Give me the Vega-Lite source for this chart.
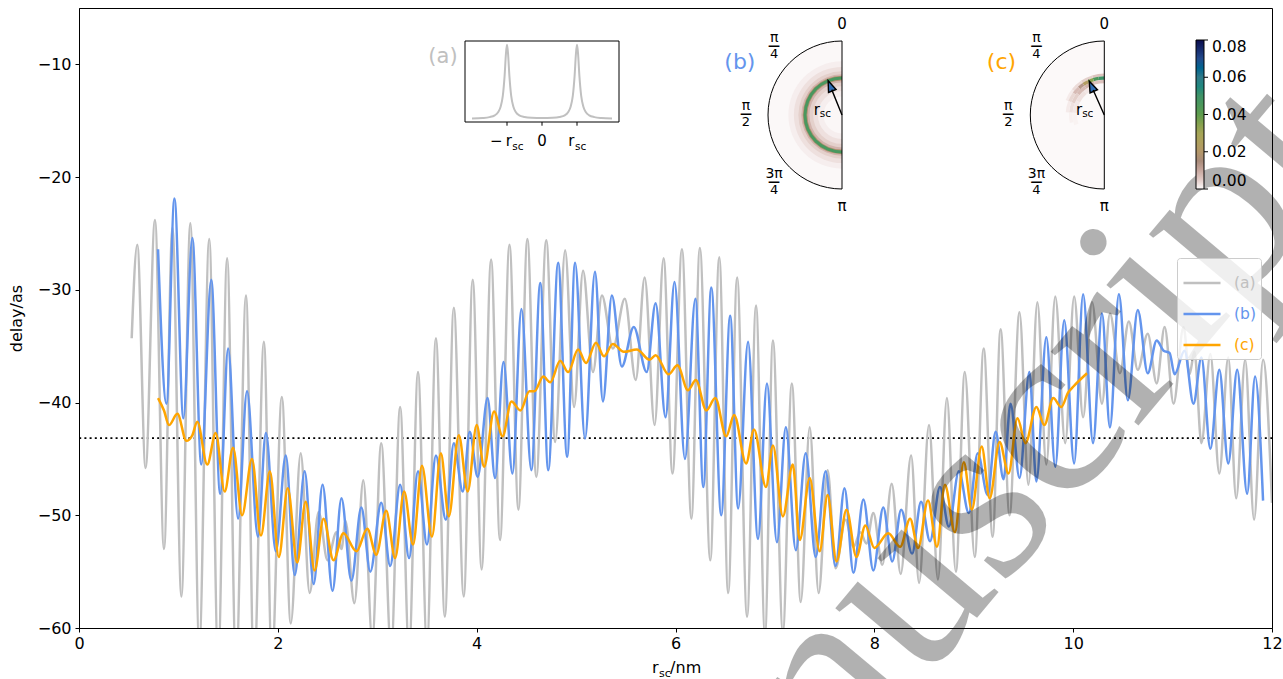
{
  "$schema": "https://vega.github.io/schema/vega-lite/v6.json",
  "width": 1193,
  "height": 620,
  "autosize": {"type": "none"},
  "padding": {"left": 79, "top": 8, "right": 11, "bottom": 51},
  "background": "white",
  "config": {
    "view": {"stroke": "black", "strokeWidth": 1},
    "axis": {"grid": false, "domainColor": "black", "tickColor": "black", "labelColor": "black", "titleColor": "black", "labelFont": "DejaVu Sans", "labelFontSize": 16, "titleFont": "DejaVu Sans", "titleFontSize": 16, "titleFontWeight": "normal", "tickSize": 4, "domainWidth": 1, "tickWidth": 1, "labelFlush": false},
    "text": {"font": "DejaVu Sans"}
  },
  "datasets": {
    "series": [
      {"s":"(a)","r":0.53,"d":-34.3},{"s":"(a)","r":0.586,"d":-26.0},{"s":"(a)","r":0.67,"d":-45.8},{"s":"(a)","r":0.764,"d":-23.8},{"s":"(a)","r":0.855,"d":-53.0},{"s":"(a)","r":0.94,"d":-24.5},{"s":"(a)","r":1.03,"d":-57.2},{"s":"(a)","r":1.12,"d":-24.1},{"s":"(a)","r":1.21,"d":-61.5},{"s":"(a)","r":1.31,"d":-25.5},{"s":"(a)","r":1.40,"d":-63},{"s":"(a)","r":1.49,"d":-27.2},{"s":"(a)","r":1.58,"d":-63.5},{"s":"(a)","r":1.68,"d":-30.5},{"s":"(a)","r":1.76,"d":-64},{"s":"(a)","r":1.86,"d":-34.6},{"s":"(a)","r":1.94,"d":-63},{"s":"(a)","r":2.04,"d":-39.5},{"s":"(a)","r":2.13,"d":-59.6},{"s":"(a)","r":2.23,"d":-44.5},{"s":"(a)","r":2.32,"d":-56.9},{"s":"(a)","r":2.41,"d":-49.7},{"s":"(a)","r":2.50,"d":-54.0},{"s":"(a)","r":2.59,"d":-51.5},{"s":"(a)","r":2.64,"d":-53.0},{"s":"(a)","r":2.68,"d":-50.5},{"s":"(a)","r":2.77,"d":-57.8},{"s":"(a)","r":2.86,"d":-46.9},{"s":"(a)","r":2.95,"d":-61},{"s":"(a)","r":3.04,"d":-43.6},{"s":"(a)","r":3.14,"d":-62},{"s":"(a)","r":3.23,"d":-40.4},{"s":"(a)","r":3.32,"d":-62},{"s":"(a)","r":3.41,"d":-37.3},{"s":"(a)","r":3.50,"d":-61.5},{"s":"(a)","r":3.59,"d":-34.3},{"s":"(a)","r":3.68,"d":-59.0},{"s":"(a)","r":3.77,"d":-31.6},{"s":"(a)","r":3.87,"d":-57.2},{"s":"(a)","r":3.96,"d":-29.1},{"s":"(a)","r":4.05,"d":-54.8},{"s":"(a)","r":4.145,"d":-27.3},{"s":"(a)","r":4.235,"d":-52.2},{"s":"(a)","r":4.33,"d":-26.0},{"s":"(a)","r":4.42,"d":-49.5},{"s":"(a)","r":4.51,"d":-25.5},{"s":"(a)","r":4.60,"d":-46.6},{"s":"(a)","r":4.70,"d":-25.6},{"s":"(a)","r":4.79,"d":-43.5},{"s":"(a)","r":4.89,"d":-26.5},{"s":"(a)","r":4.98,"d":-40.4},{"s":"(a)","r":5.07,"d":-28.3},{"s":"(a)","r":5.17,"d":-37.3},{"s":"(a)","r":5.26,"d":-30.5},{"s":"(a)","r":5.37,"d":-35.2},{"s":"(a)","r":5.49,"d":-30.8},{"s":"(a)","r":5.60,"d":-38.0},{"s":"(a)","r":5.69,"d":-28.9},{"s":"(a)","r":5.79,"d":-42.0},{"s":"(a)","r":5.88,"d":-27.2},{"s":"(a)","r":5.97,"d":-46.3},{"s":"(a)","r":6.065,"d":-26.4},{"s":"(a)","r":6.16,"d":-50.3},{"s":"(a)","r":6.245,"d":-26.3},{"s":"(a)","r":6.35,"d":-54.0},{"s":"(a)","r":6.44,"d":-27.1},{"s":"(a)","r":6.53,"d":-56.9},{"s":"(a)","r":6.62,"d":-28.9},{"s":"(a)","r":6.72,"d":-59.0},{"s":"(a)","r":6.81,"d":-31.4},{"s":"(a)","r":6.90,"d":-60.5},{"s":"(a)","r":6.98,"d":-34.5},{"s":"(a)","r":7.08,"d":-60.3},{"s":"(a)","r":7.17,"d":-38.3},{"s":"(a)","r":7.26,"d":-57.7},{"s":"(a)","r":7.35,"d":-42.2},{"s":"(a)","r":7.44,"d":-56.9},{"s":"(a)","r":7.53,"d":-46.0},{"s":"(a)","r":7.61,"d":-54.7},{"s":"(a)","r":7.71,"d":-50.4},{"s":"(a)","r":7.79,"d":-52.8},{"s":"(a)","r":7.86,"d":-51.5},{"s":"(a)","r":7.92,"d":-52.5},{"s":"(a)","r":7.99,"d":-49.8},{"s":"(a)","r":8.08,"d":-54.4},{"s":"(a)","r":8.175,"d":-47.2},{"s":"(a)","r":8.265,"d":-55.2},{"s":"(a)","r":8.37,"d":-44.7},{"s":"(a)","r":8.45,"d":-56.0},{"s":"(a)","r":8.55,"d":-42.0},{"s":"(a)","r":8.64,"d":-55.7},{"s":"(a)","r":8.73,"d":-39.6},{"s":"(a)","r":8.82,"d":-55.0},{"s":"(a)","r":8.91,"d":-37.3},{"s":"(a)","r":9.01,"d":-53.7},{"s":"(a)","r":9.10,"d":-35.2},{"s":"(a)","r":9.19,"d":-51.9},{"s":"(a)","r":9.27,"d":-33.5},{"s":"(a)","r":9.36,"d":-50.0},{"s":"(a)","r":9.46,"d":-32.0},{"s":"(a)","r":9.55,"d":-47.3},{"s":"(a)","r":9.64,"d":-31.1},{"s":"(a)","r":9.73,"d":-45.5},{"s":"(a)","r":9.82,"d":-30.6},{"s":"(a)","r":9.92,"d":-43.6},{"s":"(a)","r":10.01,"d":-30.6},{"s":"(a)","r":10.10,"d":-41.3},{"s":"(a)","r":10.19,"d":-31.1},{"s":"(a)","r":10.29,"d":-40.1},{"s":"(a)","r":10.37,"d":-32.1},{"s":"(a)","r":10.47,"d":-37.4},{"s":"(a)","r":10.56,"d":-32.8},{"s":"(a)","r":10.65,"d":-37.1},{"s":"(a)","r":10.75,"d":-33.9},{"s":"(a)","r":10.84,"d":-38.3},{"s":"(a)","r":10.92,"d":-33.3},{"s":"(a)","r":11.01,"d":-40.1},{"s":"(a)","r":11.11,"d":-33.3},{"s":"(a)","r":11.17,"d":-37.5},{"s":"(a)","r":11.22,"d":-35.5},{"s":"(a)","r":11.29,"d":-43.6},{"s":"(a)","r":11.38,"d":-35.7},{"s":"(a)","r":11.47,"d":-46.3},{"s":"(a)","r":11.56,"d":-36.0},{"s":"(a)","r":11.64,"d":-48.5},{"s":"(a)","r":11.73,"d":-36.2},{"s":"(a)","r":11.82,"d":-50.4},{"s":"(a)","r":11.91,"d":-36.2},{"s":"(a)","r":12.0,"d":-48.9},
      {"s":"(b)","r":0.795,"d":-26.4},{"s":"(b)","r":0.88,"d":-40.1},{"s":"(b)","r":0.96,"d":-21.9},{"s":"(b)","r":1.05,"d":-41.4},{"s":"(b)","r":1.14,"d":-25.4},{"s":"(b)","r":1.23,"d":-45.5},{"s":"(b)","r":1.33,"d":-29.1},{"s":"(b)","r":1.42,"d":-48.1},{"s":"(b)","r":1.50,"d":-35.2},{"s":"(b)","r":1.60,"d":-50.3},{"s":"(b)","r":1.69,"d":-39.0},{"s":"(b)","r":1.80,"d":-51.9},{"s":"(b)","r":1.88,"d":-42.7},{"s":"(b)","r":1.98,"d":-53.2},{"s":"(b)","r":2.08,"d":-44.7},{"s":"(b)","r":2.17,"d":-55.3},{"s":"(b)","r":2.27,"d":-46.1},{"s":"(b)","r":2.36,"d":-56.1},{"s":"(b)","r":2.45,"d":-47.3},{"s":"(b)","r":2.55,"d":-56.7},{"s":"(b)","r":2.64,"d":-48.5},{"s":"(b)","r":2.74,"d":-55.8},{"s":"(b)","r":2.84,"d":-49.3},{"s":"(b)","r":2.93,"d":-55.0},{"s":"(b)","r":3.04,"d":-48.9},{"s":"(b)","r":3.13,"d":-54.5},{"s":"(b)","r":3.23,"d":-47.3},{"s":"(b)","r":3.32,"d":-53.8},{"s":"(b)","r":3.41,"d":-46.1},{"s":"(b)","r":3.50,"d":-52.6},{"s":"(b)","r":3.59,"d":-44.7},{"s":"(b)","r":3.69,"d":-50.4},{"s":"(b)","r":3.77,"d":-43.6},{"s":"(b)","r":3.86,"d":-47.9},{"s":"(b)","r":3.93,"d":-42.6},{"s":"(b)","r":4.01,"d":-46.6},{"s":"(b)","r":4.11,"d":-39.6},{"s":"(b)","r":4.185,"d":-46.7},{"s":"(b)","r":4.27,"d":-36.4},{"s":"(b)","r":4.36,"d":-46.3},{"s":"(b)","r":4.45,"d":-31.7},{"s":"(b)","r":4.55,"d":-46.0},{"s":"(b)","r":4.64,"d":-29.4},{"s":"(b)","r":4.72,"d":-46.0},{"s":"(b)","r":4.82,"d":-27.6},{"s":"(b)","r":4.91,"d":-44.8},{"s":"(b)","r":4.99,"d":-27.6},{"s":"(b)","r":5.09,"d":-43.2},{"s":"(b)","r":5.19,"d":-28.4},{"s":"(b)","r":5.27,"d":-39.9},{"s":"(b)","r":5.36,"d":-30.5},{"s":"(b)","r":5.46,"d":-36.8},{"s":"(b)","r":5.58,"d":-33.3},{"s":"(b)","r":5.71,"d":-37.3},{"s":"(b)","r":5.80,"d":-31.2},{"s":"(b)","r":5.90,"d":-41.3},{"s":"(b)","r":5.99,"d":-29.3},{"s":"(b)","r":6.095,"d":-45.0},{"s":"(b)","r":6.20,"d":-30.8},{"s":"(b)","r":6.28,"d":-47.5},{"s":"(b)","r":6.36,"d":-29.8},{"s":"(b)","r":6.46,"d":-50.0},{"s":"(b)","r":6.55,"d":-32.3},{"s":"(b)","r":6.63,"d":-49.4},{"s":"(b)","r":6.73,"d":-34.6},{"s":"(b)","r":6.83,"d":-52.1},{"s":"(b)","r":6.92,"d":-38.3},{"s":"(b)","r":7.02,"d":-52.4},{"s":"(b)","r":7.11,"d":-42.2},{"s":"(b)","r":7.21,"d":-53.1},{"s":"(b)","r":7.31,"d":-44.5},{"s":"(b)","r":7.41,"d":-53.7},{"s":"(b)","r":7.51,"d":-46.1},{"s":"(b)","r":7.61,"d":-54.5},{"s":"(b)","r":7.70,"d":-47.6},{"s":"(b)","r":7.79,"d":-55.1},{"s":"(b)","r":7.89,"d":-48.6},{"s":"(b)","r":7.99,"d":-54.9},{"s":"(b)","r":8.09,"d":-49.3},{"s":"(b)","r":8.18,"d":-54.1},{"s":"(b)","r":8.27,"d":-49.5},{"s":"(b)","r":8.38,"d":-53.4},{"s":"(b)","r":8.47,"d":-48.8},{"s":"(b)","r":8.56,"d":-52.3},{"s":"(b)","r":8.66,"d":-47.5},{"s":"(b)","r":8.75,"d":-51.0},{"s":"(b)","r":8.85,"d":-46.1},{"s":"(b)","r":8.95,"d":-49.8},{"s":"(b)","r":9.04,"d":-44.5},{"s":"(b)","r":9.14,"d":-48.2},{"s":"(b)","r":9.22,"d":-42.6},{"s":"(b)","r":9.30,"d":-46.8},{"s":"(b)","r":9.37,"d":-40.1},{"s":"(b)","r":9.46,"d":-46.7},{"s":"(b)","r":9.56,"d":-37.3},{"s":"(b)","r":9.63,"d":-47.0},{"s":"(b)","r":9.73,"d":-34.2},{"s":"(b)","r":9.82,"d":-45.7},{"s":"(b)","r":9.91,"d":-32.7},{"s":"(b)","r":10.01,"d":-45.4},{"s":"(b)","r":10.10,"d":-30.4},{"s":"(b)","r":10.20,"d":-43.6},{"s":"(b)","r":10.29,"d":-32.1},{"s":"(b)","r":10.37,"d":-42.2},{"s":"(b)","r":10.46,"d":-30.4},{"s":"(b)","r":10.55,"d":-39.8},{"s":"(b)","r":10.65,"d":-31.8},{"s":"(b)","r":10.75,"d":-37.4},{"s":"(b)","r":10.84,"d":-34.5},{"s":"(b)","r":10.91,"d":-35.4},{"s":"(b)","r":10.97,"d":-35.6},{"s":"(b)","r":11.02,"d":-37.5},{"s":"(b)","r":11.12,"d":-35.4},{"s":"(b)","r":11.21,"d":-40.1},{"s":"(b)","r":11.29,"d":-36.0},{"s":"(b)","r":11.38,"d":-44.1},{"s":"(b)","r":11.47,"d":-37.1},{"s":"(b)","r":11.56,"d":-45.4},{"s":"(b)","r":11.65,"d":-37.1},{"s":"(b)","r":11.75,"d":-48.1},{"s":"(b)","r":11.83,"d":-37.7},{"s":"(b)","r":11.91,"d":-48.7},
      {"s":"(c)","r":0.795,"d":-39.6},{"s":"(c)","r":0.855,"d":-40.7},{"s":"(c)","r":0.905,"d":-42.0},{"s":"(c)","r":0.99,"d":-41.0},{"s":"(c)","r":1.08,"d":-43.4},{"s":"(c)","r":1.14,"d":-42.9},{"s":"(c)","r":1.19,"d":-41.7},{"s":"(c)","r":1.29,"d":-45.5},{"s":"(c)","r":1.375,"d":-42.7},{"s":"(c)","r":1.465,"d":-47.9},{"s":"(c)","r":1.55,"d":-44.0},{"s":"(c)","r":1.64,"d":-50.0},{"s":"(c)","r":1.74,"d":-45.0},{"s":"(c)","r":1.83,"d":-51.8},{"s":"(c)","r":1.92,"d":-46.1},{"s":"(c)","r":2.01,"d":-53.7},{"s":"(c)","r":2.10,"d":-47.6},{"s":"(c)","r":2.195,"d":-54.2},{"s":"(c)","r":2.28,"d":-48.8},{"s":"(c)","r":2.37,"d":-54.9},{"s":"(c)","r":2.46,"d":-50.3},{"s":"(c)","r":2.56,"d":-54.0},{"s":"(c)","r":2.66,"d":-51.6},{"s":"(c)","r":2.79,"d":-53.2},{"s":"(c)","r":2.90,"d":-51.2},{"s":"(c)","r":2.99,"d":-53.5},{"s":"(c)","r":3.09,"d":-49.6},{"s":"(c)","r":3.18,"d":-53.8},{"s":"(c)","r":3.27,"d":-47.9},{"s":"(c)","r":3.36,"d":-52.6},{"s":"(c)","r":3.45,"d":-45.6},{"s":"(c)","r":3.55,"d":-51.9},{"s":"(c)","r":3.64,"d":-44.5},{"s":"(c)","r":3.72,"d":-50.1},{"s":"(c)","r":3.82,"d":-42.9},{"s":"(c)","r":3.91,"d":-47.9},{"s":"(c)","r":4.00,"d":-42.0},{"s":"(c)","r":4.075,"d":-45.7},{"s":"(c)","r":4.175,"d":-40.8},{"s":"(c)","r":4.26,"d":-43.0},{"s":"(c)","r":4.35,"d":-39.9},{"s":"(c)","r":4.44,"d":-40.7},{"s":"(c)","r":4.53,"d":-39.0},{"s":"(c)","r":4.58,"d":-39.0},{"s":"(c)","r":4.67,"d":-37.7},{"s":"(c)","r":4.74,"d":-38.2},{"s":"(c)","r":4.84,"d":-36.3},{"s":"(c)","r":4.92,"d":-37.3},{"s":"(c)","r":5.02,"d":-35.3},{"s":"(c)","r":5.10,"d":-36.5},{"s":"(c)","r":5.20,"d":-34.7},{"s":"(c)","r":5.28,"d":-35.9},{"s":"(c)","r":5.37,"d":-34.8},{"s":"(c)","r":5.48,"d":-35.5},{"s":"(c)","r":5.61,"d":-35.3},{"s":"(c)","r":5.74,"d":-36.2},{"s":"(c)","r":5.80,"d":-35.8},{"s":"(c)","r":5.93,"d":-37.5},{"s":"(c)","r":6.02,"d":-36.7},{"s":"(c)","r":6.125,"d":-38.9},{"s":"(c)","r":6.205,"d":-38.0},{"s":"(c)","r":6.31,"d":-40.7},{"s":"(c)","r":6.40,"d":-39.6},{"s":"(c)","r":6.51,"d":-43.0},{"s":"(c)","r":6.59,"d":-41.1},{"s":"(c)","r":6.71,"d":-45.4},{"s":"(c)","r":6.79,"d":-42.4},{"s":"(c)","r":6.91,"d":-47.5},{"s":"(c)","r":6.98,"d":-43.8},{"s":"(c)","r":7.08,"d":-50.1},{"s":"(c)","r":7.18,"d":-45.5},{"s":"(c)","r":7.25,"d":-52.2},{"s":"(c)","r":7.35,"d":-46.7},{"s":"(c)","r":7.45,"d":-53.2},{"s":"(c)","r":7.53,"d":-48.2},{"s":"(c)","r":7.62,"d":-54.1},{"s":"(c)","r":7.72,"d":-49.5},{"s":"(c)","r":7.82,"d":-53.7},{"s":"(c)","r":7.91,"d":-50.9},{"s":"(c)","r":8.00,"d":-52.9},{"s":"(c)","r":8.14,"d":-51.6},{"s":"(c)","r":8.26,"d":-52.8},{"s":"(c)","r":8.36,"d":-50.3},{"s":"(c)","r":8.44,"d":-52.9},{"s":"(c)","r":8.54,"d":-48.7},{"s":"(c)","r":8.63,"d":-52.8},{"s":"(c)","r":8.71,"d":-47.3},{"s":"(c)","r":8.81,"d":-51.5},{"s":"(c)","r":8.90,"d":-45.3},{"s":"(c)","r":8.98,"d":-49.5},{"s":"(c)","r":9.08,"d":-43.9},{"s":"(c)","r":9.16,"d":-48.5},{"s":"(c)","r":9.26,"d":-43.5},{"s":"(c)","r":9.35,"d":-46.3},{"s":"(c)","r":9.44,"d":-41.4},{"s":"(c)","r":9.52,"d":-43.6},{"s":"(c)","r":9.63,"d":-40.4},{"s":"(c)","r":9.71,"d":-42.0},{"s":"(c)","r":9.80,"d":-39.6},{"s":"(c)","r":9.88,"d":-40.4},{"s":"(c)","r":9.95,"d":-39.1},{"s":"(c)","r":10.00,"d":-38.6},{"s":"(c)","r":10.14,"d":-37.4}
    ],
    "lor": [
      {"pos":-2.0,"I":0.006},{"pos":-1.7,"I":0.013},{"pos":-1.5,"I":0.026},{"pos":-1.35,"I":0.05},{"pos":-1.25,"I":0.095},{"pos":-1.18,"I":0.17},{"pos":-1.12,"I":0.31},{"pos":-1.07,"I":0.57},{"pos":-1.03,"I":0.88},{"pos":-1.0,"I":1.0},{"pos":-0.97,"I":0.88},{"pos":-0.93,"I":0.57},{"pos":-0.88,"I":0.31},{"pos":-0.82,"I":0.17},{"pos":-0.75,"I":0.095},{"pos":-0.65,"I":0.05},{"pos":-0.5,"I":0.028},{"pos":-0.3,"I":0.017},{"pos":0,"I":0.013},
      {"pos":0.3,"I":0.017},{"pos":0.5,"I":0.028},{"pos":0.65,"I":0.05},{"pos":0.75,"I":0.095},{"pos":0.82,"I":0.17},{"pos":0.88,"I":0.31},{"pos":0.93,"I":0.57},{"pos":0.97,"I":0.88},{"pos":1.0,"I":1.0},{"pos":1.03,"I":0.88},{"pos":1.07,"I":0.57},{"pos":1.12,"I":0.31},{"pos":1.18,"I":0.17},{"pos":1.25,"I":0.095},{"pos":1.35,"I":0.05},{"pos":1.5,"I":0.026},{"pos":1.7,"I":0.013},{"pos":2.0,"I":0.006}
    ],
    "db": [
      {"t0":0,"t1":3.14159265,"r0":0,"r1":2,"p":0.0003},
      {"t0":0,"t1":3.14159265,"r0":0,"r1":1.45,"p":0.0012},
      {"t0":0,"t1":3.14159265,"r0":0,"r1":1.3,"p":0.0026},
      {"t0":0,"t1":3.14159265,"r0":0,"r1":1.18,"p":0.0045},
      {"t0":0,"t1":3.14159265,"r0":0,"r1":1.1,"p":0.008},
      {"t0":0,"t1":3.14159265,"r0":0,"r1":1.06,"p":0.018},
      {"t0":0,"t1":3.14159265,"r0":0,"r1":1.04,"p":0.046},
      {"t0":0,"t1":3.14159265,"r0":0,"r1":0.96,"p":0.018},
      {"t0":0,"t1":3.14159265,"r0":0,"r1":0.935,"p":0.008},
      {"t0":0,"t1":3.14159265,"r0":0,"r1":0.88,"p":0.0045},
      {"t0":0,"t1":3.14159265,"r0":0,"r1":0.78,"p":0.0026},
      {"t0":0,"t1":3.14159265,"r0":0,"r1":0.65,"p":0.0012},
      {"t0":0,"t1":3.14159265,"r0":0,"r1":0.5,"p":0.0004}
    ],
    "dc": [
      {"t0":0,"t1":3.14159265,"r0":0,"r1":2,"p":0.0002},
      {"t0":0.3,"t1":0.7,"r0":0.74,"r1":0.86,"p":0.002},
      {"t0":0.7,"t1":1.1,"r0":0.74,"r1":0.86,"p":0.0025},
      {"t0":1.1,"t1":1.5,"r0":0.74,"r1":0.86,"p":0.0018},
      {"t0":1.5,"t1":1.9,"r0":0.74,"r1":0.86,"p":0.0008},
      {"t0":0,"t1":0.3,"r0":0.86,"r1":0.955,"p":0.006},
      {"t0":0.3,"t1":0.6,"r0":0.86,"r1":0.955,"p":0.008},
      {"t0":0.6,"t1":0.9,"r0":0.86,"r1":0.955,"p":0.007},
      {"t0":0.9,"t1":1.2,"r0":0.86,"r1":0.955,"p":0.0045},
      {"t0":1.2,"t1":1.5,"r0":0.86,"r1":0.955,"p":0.0025},
      {"t0":1.5,"t1":1.8,"r0":0.86,"r1":0.955,"p":0.001},
      {"t0":0,"t1":0.3,"r0":1.045,"r1":1.12,"p":0.006},
      {"t0":0.3,"t1":0.6,"r0":1.045,"r1":1.12,"p":0.0045},
      {"t0":0.6,"t1":0.9,"r0":1.045,"r1":1.12,"p":0.003},
      {"t0":0.9,"t1":1.2,"r0":1.045,"r1":1.12,"p":0.0015},
      {"t0":0,"t1":0.15,"r0":0.955,"r1":1.045,"p":0.05},
      {"t0":0.15,"t1":0.3,"r0":0.955,"r1":1.045,"p":0.045},
      {"t0":0.3,"t1":0.45,"r0":0.955,"r1":1.045,"p":0.034},
      {"t0":0.45,"t1":0.6,"r0":0.955,"r1":1.045,"p":0.022},
      {"t0":0.6,"t1":0.75,"r0":0.955,"r1":1.045,"p":0.013},
      {"t0":0.75,"t1":0.95,"r0":0.955,"r1":1.045,"p":0.007},
      {"t0":0.95,"t1":1.2,"r0":0.955,"r1":1.045,"p":0.0035},
      {"t0":1.2,"t1":1.5,"r0":0.955,"r1":1.045,"p":0.0015}
    ],
    "ang": [
      {"ang":0,"num":"0","den":""},
      {"ang":0.7854,"num":"π","den":"4"},
      {"ang":1.5708,"num":"π","den":"2"},
      {"ang":2.3562,"num":"3π","den":"4"},
      {"ang":3.1416,"num":"π","den":""}
    ]
  },
  "layer": [
    {
      "layer": [
        {
          "data": {"values": [{}]},
          "mark": {"type": "rule", "color": "black", "strokeWidth": 1.8, "strokeDash": [2, 3.2]},
          "encoding": {
            "y": {"datum": -43.16, "type": "quantitative", "scale": {"domain": [-60, -5], "nice": false, "zero": false}, "axis": {"values": [-60, -50, -40, -30, -20, -10], "title": "delay/as", "titlePadding": 13, "labelPadding": 4, "format": "d"}}
          }
        },
        {
          "data": {"name": "series"},
          "mark": {"type": "line", "interpolate": "monotone", "strokeWidth": 2.5, "clip": true},
          "encoding": {
            "x": {"field": "r", "type": "quantitative", "scale": {"domain": [0, 12], "nice": false, "zero": false}, "axis": {"values": [0, 2, 4, 6, 8, 10, 12], "title": null, "labelPadding": 3, "format": "d"}},
            "y": {"field": "d", "type": "quantitative", "scale": {"domain": [-60, -5], "nice": false, "zero": false}, "axis": {"values": [-60, -50, -40, -30, -20, -10], "title": "delay/as", "titlePadding": 13, "labelPadding": 4, "format": "d"}},
            "color": {
              "field": "s", "type": "nominal",
              "scale": {"domain": ["(a)", "(b)", "(c)"], "range": ["#c0c0c0", "#6495ed", "#ffa500"]},
              "legend": {"orient": "none", "legendX": 1098, "legendY": 250, "title": null, "symbolType": "stroke", "symbolStrokeWidth": 2.5, "symbolSize": 1369, "labelFont": "DejaVu Sans", "labelFontSize": 15.5, "labelOffset": 12, "rowPadding": 2, "padding": 5, "fillColor": "rgba(255,255,255,0.8)", "strokeColor": "#cccccc", "cornerRadius": 3, "labelColor": {"expr": "datum.label === '(a)' ? '#c0c0c0' : datum.label === '(b)' ? '#6495ed' : '#ffa500'"}}
            }
          }
        },
        {
          "data": {"values": [{}]},
          "mark": {"type": "text", "text": "r", "font": "DejaVu Sans", "fontSize": 16, "align": "right", "baseline": "alphabetic", "dx": -17, "clip": false},
          "encoding": {
            "x": {"datum": 6, "type": "quantitative", "scale": {"domain": [0, 12], "nice": false, "zero": false}, "axis": {"values": [0, 2, 4, 6, 8, 10, 12], "title": null, "labelPadding": 3, "format": "d"}},
            "y": {"datum": -64, "type": "quantitative", "scale": {"domain": [-60, -5], "nice": false, "zero": false}, "axis": {"values": [-60, -50, -40, -30, -20, -10], "title": "delay/as", "titlePadding": 13, "labelPadding": 4, "format": "d"}}
          }
        },
        {
          "data": {"values": [{}]},
          "mark": {"type": "text", "text": "sc", "font": "DejaVu Sans", "fontSize": 11, "align": "left", "baseline": "alphabetic", "dx": -16.5, "dy": 4, "clip": false},
          "encoding": {
            "x": {"datum": 6, "type": "quantitative", "scale": {"domain": [0, 12], "nice": false, "zero": false}, "axis": {"values": [0, 2, 4, 6, 8, 10, 12], "title": null, "labelPadding": 3, "format": "d"}},
            "y": {"datum": -64, "type": "quantitative", "scale": {"domain": [-60, -5], "nice": false, "zero": false}, "axis": {"values": [-60, -50, -40, -30, -20, -10], "title": "delay/as", "titlePadding": 13, "labelPadding": 4, "format": "d"}}
          }
        },
        {
          "data": {"values": [{}]},
          "mark": {"type": "text", "text": "/nm", "font": "DejaVu Sans", "fontSize": 16, "align": "left", "baseline": "alphabetic", "dx": -5.4, "clip": false},
          "encoding": {
            "x": {"datum": 6, "type": "quantitative", "scale": {"domain": [0, 12], "nice": false, "zero": false}, "axis": {"values": [0, 2, 4, 6, 8, 10, 12], "title": null, "labelPadding": 3, "format": "d"}},
            "y": {"datum": -64, "type": "quantitative", "scale": {"domain": [-60, -5], "nice": false, "zero": false}, "axis": {"values": [-60, -50, -40, -30, -20, -10], "title": "delay/as", "titlePadding": 13, "labelPadding": 4, "format": "d"}}
          }
        }
      ]
    },
    {
      "layer": [
        {
          "data": {"values": [{}]},
          "mark": {"type": "rect", "fill": "white", "stroke": "black", "strokeWidth": 1},
          "encoding": {
            "x": {"datum": -2.2, "type": "quantitative", "scale": {"domain": [-2.2, 2.2], "range": [386, 540]}, "axis": null},
            "x2": {"datum": 2.2},
            "y": {"datum": -0.04, "type": "quantitative", "scale": {"domain": [-0.04, 1.05], "range": [114, 33]}, "axis": null},
            "y2": {"datum": 1.05}
          }
        },
        {
          "data": {"name": "lor"},
          "mark": {"type": "line", "color": "#c0c0c0", "strokeWidth": 2, "interpolate": "monotone"},
          "encoding": {
            "x": {"field": "pos", "type": "quantitative", "scale": {"domain": [-2.2, 2.2], "range": [386, 540]}, "axis": null},
            "y": {"field": "I", "type": "quantitative", "scale": {"domain": [-0.04, 1.05], "range": [114, 33]}, "axis": null}
          }
        },
        {
          "data": {"values": [{"t": -1}, {"t": 0}, {"t": 1}]},
          "mark": {"type": "rule", "color": "black", "strokeWidth": 1},
          "encoding": {
            "x": {"field": "t", "type": "quantitative", "scale": {"domain": [-2.2, 2.2], "range": [386, 540]}, "axis": null},
            "y": {"datum": -0.04, "type": "quantitative", "scale": {"domain": [-0.04, 1.05], "range": [114, 33]}, "axis": null},
            "y2": {"datum": -0.09}
          }
        },
        {
          "data": {"values": [{}]},
          "mark": {"type": "text", "text": "−\u2009r", "fontSize": 15, "align": "right", "baseline": "alphabetic", "dx": 4.8},
          "encoding": {
            "x": {"datum": -1, "type": "quantitative", "scale": {"domain": [-2.2, 2.2], "range": [386, 540]}, "axis": null},
            "y": {"datum": -0.36, "type": "quantitative", "scale": {"domain": [-0.04, 1.05], "range": [114, 33]}, "axis": null}
          }
        },
        {
          "data": {"values": [{}]},
          "mark": {"type": "text", "text": "sc", "fontSize": 10.5, "align": "left", "baseline": "alphabetic", "dx": 5.3, "dy": 4},
          "encoding": {
            "x": {"datum": -1, "type": "quantitative", "scale": {"domain": [-2.2, 2.2], "range": [386, 540]}, "axis": null},
            "y": {"datum": -0.36, "type": "quantitative", "scale": {"domain": [-0.04, 1.05], "range": [114, 33]}, "axis": null}
          }
        },
        {
          "data": {"values": [{}]},
          "mark": {"type": "text", "text": "0", "fontSize": 15, "align": "center", "baseline": "alphabetic"},
          "encoding": {
            "x": {"datum": 0, "type": "quantitative", "scale": {"domain": [-2.2, 2.2], "range": [386, 540]}, "axis": null},
            "y": {"datum": -0.36, "type": "quantitative", "scale": {"domain": [-0.04, 1.05], "range": [114, 33]}, "axis": null}
          }
        },
        {
          "data": {"values": [{}]},
          "mark": {"type": "text", "text": "r", "fontSize": 15, "align": "right", "baseline": "alphabetic", "dx": -2.5},
          "encoding": {
            "x": {"datum": 1, "type": "quantitative", "scale": {"domain": [-2.2, 2.2], "range": [386, 540]}, "axis": null},
            "y": {"datum": -0.36, "type": "quantitative", "scale": {"domain": [-0.04, 1.05], "range": [114, 33]}, "axis": null}
          }
        },
        {
          "data": {"values": [{}]},
          "mark": {"type": "text", "text": "sc", "fontSize": 10.5, "align": "left", "baseline": "alphabetic", "dx": -2, "dy": 4},
          "encoding": {
            "x": {"datum": 1, "type": "quantitative", "scale": {"domain": [-2.2, 2.2], "range": [386, 540]}, "axis": null},
            "y": {"datum": -0.36, "type": "quantitative", "scale": {"domain": [-0.04, 1.05], "range": [114, 33]}, "axis": null}
          }
        },
        {
          "data": {"values": [{}]},
          "mark": {"type": "text", "text": "(a)", "fontSize": 21, "align": "center", "baseline": "middle", "color": "#c0c0c0"},
          "encoding": {
            "x": {"datum": -2.83, "type": "quantitative", "scale": {"domain": [-2.2, 2.2], "range": [386, 540]}, "axis": null},
            "y": {"datum": 0.835, "type": "quantitative", "scale": {"domain": [-0.04, 1.05], "range": [114, 33]}, "axis": null}
          }
        }
      ]
    },
    {
      "layer": [
        {
          "data": {"name": "db"},
          "mark": {"type": "arc", "strokeWidth": 0},
          "encoding": {
            "x": {"datum": 0, "type": "quantitative", "scale": {"domain": [-2, 0], "range": [689, 763]}, "axis": null},
            "y": {"datum": 0, "type": "quantitative", "scale": {"domain": [-2, 2], "range": [181, 33]}, "axis": null},
            "theta": {"field": "t0", "type": "quantitative", "scale": {"domain": [0, 3.14159265], "range": [6.28318531, 3.14159265]}, "stack": null},
            "theta2": {"field": "t1"},
            "radius": {"field": "r1", "type": "quantitative", "scale": {"type": "linear", "domain": [0, 2], "range": [0, 74], "zero": true}},
            "radius2": {"field": "r0"},
            "fill": {"field": "p", "type": "quantitative",
              "scale": {"domain": [0, 0.003, 0.008, 0.015, 0.022, 0.03, 0.04, 0.05, 0.06, 0.07, 0.08], "range": ["#fdfbfb", "#ecdcd9", "#d2b3ac", "#a98b7a", "#b39d62", "#a5a556", "#5e9d4d", "#3f9367", "#2f7a89", "#224a8c", "#0b0c4d"], "zero": false, "nice": false},
              "legend": {"orient": "none", "legendX": 1117, "legendY": 32, "title": null, "direction": "vertical", "gradientLength": 149, "gradientThickness": 8, "values": [0, 0.02, 0.04, 0.06, 0.08], "format": ".2f", "labelFont": "DejaVu Sans", "labelFontSize": 15.5, "labelColor": "black", "labelOffset": 8, "gradientStrokeColor": "black", "gradientStrokeWidth": 1, "padding": 0}
            }
          }
        },
        {
          "data": {"values": [{}]},
          "mark": {"type": "arc", "fillOpacity": 0, "stroke": "black", "strokeWidth": 1},
          "encoding": {
            "x": {"datum": 0, "type": "quantitative", "scale": {"domain": [-2, 0], "range": [689, 763]}, "axis": null},
            "y": {"datum": 0, "type": "quantitative", "scale": {"domain": [-2, 2], "range": [181, 33]}, "axis": null},
            "theta": {"datum": 0, "type": "quantitative", "scale": {"domain": [0, 3.14159265], "range": [6.28318531, 3.14159265]}},
            "theta2": {"datum": 3.14159265},
            "radius": {"datum": 2, "type": "quantitative", "scale": {"type": "linear", "domain": [0, 2], "range": [0, 74], "zero": true}},
            "radius2": {"datum": 0}
          }
        },
        {
          "data": {"values": [{}]},
          "mark": {"type": "point", "shape": "M0,0L0,-0.74M0,-1L-0.11,-0.7L0.11,-0.7Z", "size": 5476, "angle": -22, "filled": true, "fill": "#2f6db5", "stroke": "black", "strokeWidth": 1.4, "opacity": 1},
          "encoding": {
            "x": {"datum": 0, "type": "quantitative", "scale": {"domain": [-2, 0], "range": [689, 763]}, "axis": null},
            "y": {"datum": 0, "type": "quantitative", "scale": {"domain": [-2, 2], "range": [181, 33]}, "axis": null}
          }
        },
        {
          "data": {"name": "ang"},
          "transform": [{"filter": "datum.den == ''"}],
          "mark": {"type": "text", "radius": 91, "fontSize": 15, "align": "center", "baseline": "middle"},
          "encoding": {
            "x": {"datum": 0, "type": "quantitative", "scale": {"domain": [-2, 0], "range": [689, 763]}, "axis": null},
            "y": {"datum": 0, "type": "quantitative", "scale": {"domain": [-2, 2], "range": [181, 33]}, "axis": null},
            "theta": {"field": "ang", "type": "quantitative", "scale": {"domain": [0, 3.14159265], "range": [6.28318531, 3.14159265]}, "stack": null},
            "text": {"field": "num"}
          }
        },
        {
          "data": {"name": "ang"},
          "transform": [{"filter": "datum.den != ''"}],
          "mark": {"type": "text", "radius": 96, "fontSize": 14, "align": "center", "baseline": "middle", "dy": -9},
          "encoding": {
            "x": {"datum": 0, "type": "quantitative", "scale": {"domain": [-2, 0], "range": [689, 763]}, "axis": null},
            "y": {"datum": 0, "type": "quantitative", "scale": {"domain": [-2, 2], "range": [181, 33]}, "axis": null},
            "theta": {"field": "ang", "type": "quantitative", "scale": {"domain": [0, 3.14159265], "range": [6.28318531, 3.14159265]}, "stack": null},
            "text": {"field": "num"}
          }
        },
        {
          "data": {"name": "ang"},
          "transform": [{"filter": "datum.den != ''"}],
          "mark": {"type": "text", "text": "—", "radius": 96, "fontSize": 12, "fontWeight": "bold", "align": "center", "baseline": "middle", "dy": -1},
          "encoding": {
            "x": {"datum": 0, "type": "quantitative", "scale": {"domain": [-2, 0], "range": [689, 763]}, "axis": null},
            "y": {"datum": 0, "type": "quantitative", "scale": {"domain": [-2, 2], "range": [181, 33]}, "axis": null},
            "theta": {"field": "ang", "type": "quantitative", "scale": {"domain": [0, 3.14159265], "range": [6.28318531, 3.14159265]}, "stack": null}
          }
        },
        {
          "data": {"name": "ang"},
          "transform": [{"filter": "datum.den != ''"}],
          "mark": {"type": "text", "radius": 96, "fontSize": 13, "align": "center", "baseline": "middle", "dy": 7},
          "encoding": {
            "x": {"datum": 0, "type": "quantitative", "scale": {"domain": [-2, 0], "range": [689, 763]}, "axis": null},
            "y": {"datum": 0, "type": "quantitative", "scale": {"domain": [-2, 2], "range": [181, 33]}, "axis": null},
            "theta": {"field": "ang", "type": "quantitative", "scale": {"domain": [0, 3.14159265], "range": [6.28318531, 3.14159265]}, "stack": null},
            "text": {"field": "den"}
          }
        },
        {
          "data": {"values": [{}]},
          "mark": {"type": "text", "text": "(b)", "fontSize": 22, "align": "center", "baseline": "middle", "color": "#6495ed"},
          "encoding": {
            "x": {"datum": -2.76, "type": "quantitative", "scale": {"domain": [-2, 0], "range": [689, 763]}, "axis": null},
            "y": {"datum": 1.43, "type": "quantitative", "scale": {"domain": [-2, 2], "range": [181, 33]}, "axis": null}
          }
        },
        {
          "data": {"values": [{}]},
          "mark": {"type": "text", "text": "r", "fontSize": 15, "align": "center", "baseline": "middle"},
          "encoding": {
            "x": {"datum": -0.68, "type": "quantitative", "scale": {"domain": [-2, 0], "range": [689, 763]}, "axis": null},
            "y": {"datum": 0.13, "type": "quantitative", "scale": {"domain": [-2, 2], "range": [181, 33]}, "axis": null}
          }
        },
        {
          "data": {"values": [{}]},
          "mark": {"type": "text", "text": "sc", "fontSize": 10.5, "align": "left", "baseline": "middle", "dx": 3, "dy": 4},
          "encoding": {
            "x": {"datum": -0.68, "type": "quantitative", "scale": {"domain": [-2, 0], "range": [689, 763]}, "axis": null},
            "y": {"datum": 0.13, "type": "quantitative", "scale": {"domain": [-2, 2], "range": [181, 33]}, "axis": null}
          }
        }
      ]
    },
    {
      "layer": [
        {
          "data": {"name": "dc"},
          "mark": {"type": "arc", "strokeWidth": 0},
          "encoding": {
            "x": {"datum": 0, "type": "quantitative", "scale": {"domain": [-2, 0], "range": [951.3, 1025.3]}, "axis": null},
            "y": {"datum": 0, "type": "quantitative", "scale": {"domain": [-2, 2], "range": [181, 33]}, "axis": null},
            "theta": {"field": "t0", "type": "quantitative", "scale": {"domain": [0, 3.14159265], "range": [6.28318531, 3.14159265]}, "stack": null},
            "theta2": {"field": "t1"},
            "radius": {"field": "r1", "type": "quantitative", "scale": {"type": "linear", "domain": [0, 2], "range": [0, 74], "zero": true}},
            "radius2": {"field": "r0"},
            "fill": {"field": "p", "type": "quantitative",
              "scale": {"domain": [0, 0.003, 0.008, 0.015, 0.022, 0.03, 0.04, 0.05, 0.06, 0.07, 0.08], "range": ["#fdfbfb", "#ecdcd9", "#d2b3ac", "#a98b7a", "#b39d62", "#a5a556", "#5e9d4d", "#3f9367", "#2f7a89", "#224a8c", "#0b0c4d"], "zero": false, "nice": false},
              "legend": {"orient": "none", "legendX": 1117, "legendY": 32, "title": null, "direction": "vertical", "gradientLength": 149, "gradientThickness": 8, "values": [0, 0.02, 0.04, 0.06, 0.08], "format": ".2f", "labelFont": "DejaVu Sans", "labelFontSize": 15.5, "labelColor": "black", "labelOffset": 8, "gradientStrokeColor": "black", "gradientStrokeWidth": 1, "padding": 0}
            }
          }
        },
        {
          "data": {"values": [{}]},
          "mark": {"type": "arc", "fillOpacity": 0, "stroke": "black", "strokeWidth": 1},
          "encoding": {
            "x": {"datum": 0, "type": "quantitative", "scale": {"domain": [-2, 0], "range": [951.3, 1025.3]}, "axis": null},
            "y": {"datum": 0, "type": "quantitative", "scale": {"domain": [-2, 2], "range": [181, 33]}, "axis": null},
            "theta": {"datum": 0, "type": "quantitative", "scale": {"domain": [0, 3.14159265], "range": [6.28318531, 3.14159265]}},
            "theta2": {"datum": 3.14159265},
            "radius": {"datum": 2, "type": "quantitative", "scale": {"type": "linear", "domain": [0, 2], "range": [0, 74], "zero": true}},
            "radius2": {"datum": 0}
          }
        },
        {
          "data": {"values": [{}]},
          "mark": {"type": "point", "shape": "M0,0L0,-0.74M0,-1L-0.11,-0.7L0.11,-0.7Z", "size": 5476, "angle": -24, "filled": true, "fill": "#2f6db5", "stroke": "black", "strokeWidth": 1.4, "opacity": 1},
          "encoding": {
            "x": {"datum": 0, "type": "quantitative", "scale": {"domain": [-2, 0], "range": [951.3, 1025.3]}, "axis": null},
            "y": {"datum": 0, "type": "quantitative", "scale": {"domain": [-2, 2], "range": [181, 33]}, "axis": null}
          }
        },
        {
          "data": {"name": "ang"},
          "transform": [{"filter": "datum.den == ''"}],
          "mark": {"type": "text", "radius": 91, "fontSize": 15, "align": "center", "baseline": "middle"},
          "encoding": {
            "x": {"datum": 0, "type": "quantitative", "scale": {"domain": [-2, 0], "range": [951.3, 1025.3]}, "axis": null},
            "y": {"datum": 0, "type": "quantitative", "scale": {"domain": [-2, 2], "range": [181, 33]}, "axis": null},
            "theta": {"field": "ang", "type": "quantitative", "scale": {"domain": [0, 3.14159265], "range": [6.28318531, 3.14159265]}, "stack": null},
            "text": {"field": "num"}
          }
        },
        {
          "data": {"name": "ang"},
          "transform": [{"filter": "datum.den != ''"}],
          "mark": {"type": "text", "radius": 96, "fontSize": 14, "align": "center", "baseline": "middle", "dy": -9},
          "encoding": {
            "x": {"datum": 0, "type": "quantitative", "scale": {"domain": [-2, 0], "range": [951.3, 1025.3]}, "axis": null},
            "y": {"datum": 0, "type": "quantitative", "scale": {"domain": [-2, 2], "range": [181, 33]}, "axis": null},
            "theta": {"field": "ang", "type": "quantitative", "scale": {"domain": [0, 3.14159265], "range": [6.28318531, 3.14159265]}, "stack": null},
            "text": {"field": "num"}
          }
        },
        {
          "data": {"name": "ang"},
          "transform": [{"filter": "datum.den != ''"}],
          "mark": {"type": "text", "text": "—", "radius": 96, "fontSize": 12, "fontWeight": "bold", "align": "center", "baseline": "middle", "dy": -1},
          "encoding": {
            "x": {"datum": 0, "type": "quantitative", "scale": {"domain": [-2, 0], "range": [951.3, 1025.3]}, "axis": null},
            "y": {"datum": 0, "type": "quantitative", "scale": {"domain": [-2, 2], "range": [181, 33]}, "axis": null},
            "theta": {"field": "ang", "type": "quantitative", "scale": {"domain": [0, 3.14159265], "range": [6.28318531, 3.14159265]}, "stack": null}
          }
        },
        {
          "data": {"name": "ang"},
          "transform": [{"filter": "datum.den != ''"}],
          "mark": {"type": "text", "radius": 96, "fontSize": 13, "align": "center", "baseline": "middle", "dy": 7},
          "encoding": {
            "x": {"datum": 0, "type": "quantitative", "scale": {"domain": [-2, 0], "range": [951.3, 1025.3]}, "axis": null},
            "y": {"datum": 0, "type": "quantitative", "scale": {"domain": [-2, 2], "range": [181, 33]}, "axis": null},
            "theta": {"field": "ang", "type": "quantitative", "scale": {"domain": [0, 3.14159265], "range": [6.28318531, 3.14159265]}, "stack": null},
            "text": {"field": "den"}
          }
        },
        {
          "data": {"values": [{}]},
          "mark": {"type": "text", "text": "(c)", "fontSize": 22, "align": "center", "baseline": "middle", "color": "#ffa500"},
          "encoding": {
            "x": {"datum": -2.78, "type": "quantitative", "scale": {"domain": [-2, 0], "range": [951.3, 1025.3]}, "axis": null},
            "y": {"datum": 1.43, "type": "quantitative", "scale": {"domain": [-2, 2], "range": [181, 33]}, "axis": null}
          }
        },
        {
          "data": {"values": [{}]},
          "mark": {"type": "text", "text": "r", "fontSize": 15, "align": "center", "baseline": "middle"},
          "encoding": {
            "x": {"datum": -0.68, "type": "quantitative", "scale": {"domain": [-2, 0], "range": [951.3, 1025.3]}, "axis": null},
            "y": {"datum": 0.13, "type": "quantitative", "scale": {"domain": [-2, 2], "range": [181, 33]}, "axis": null}
          }
        },
        {
          "data": {"values": [{}]},
          "mark": {"type": "text", "text": "sc", "fontSize": 10.5, "align": "left", "baseline": "middle", "dx": 3, "dy": 4},
          "encoding": {
            "x": {"datum": -0.68, "type": "quantitative", "scale": {"domain": [-2, 0], "range": [951.3, 1025.3]}, "axis": null},
            "y": {"datum": 0.13, "type": "quantitative", "scale": {"domain": [-2, 2], "range": [181, 33]}, "axis": null}
          }
        }
      ]
    },
    {
      "data": {"values": [{"v": 0}, {"v": 0.02}, {"v": 0.04}, {"v": 0.06}, {"v": 0.08}]},
      "mark": {"type": "rule", "color": "black", "strokeWidth": 1},
      "encoding": {
        "x": {"datum": 0, "type": "quantitative", "scale": {"domain": [0, 1], "range": [1125, 1129]}, "axis": null},
        "x2": {"datum": 1},
        "y": {"field": "v", "type": "quantitative", "scale": {"domain": [0, 0.08], "range": [181, 32]}, "axis": null}
      }
    },
    {
      "data": {"values": [{}]},
      "mark": {"type": "text", "text": "Accepted Manuscript", "font": "Liberation Serif", "fontSize": 250, "angle": -50, "align": "center", "baseline": "alphabetic", "color": "black", "opacity": 0.3},
      "encoding": {
        "x": {"datum": 5.934, "type": "quantitative", "scale": {"domain": [0, 12], "nice": false, "zero": false}, "axis": null},
        "y": {"datum": -91.65, "type": "quantitative", "scale": {"domain": [-60, -5], "nice": false, "zero": false}, "axis": null}
      }
    }
  ],
  "resolve": {"scale": {"x": "independent", "y": "independent"}}
}
